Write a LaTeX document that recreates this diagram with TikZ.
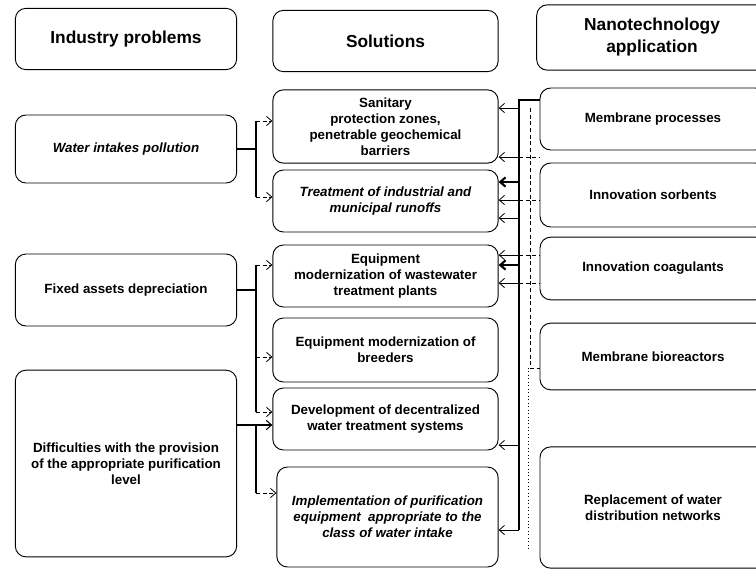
\documentclass[tikz,border=0pt]{standalone}
\usepackage{fontspec}
\setmainfont{Liberation Sans}
\usetikzlibrary{arrows.meta}

\begin{document}
\begin{tikzpicture}[x=0.75pt,y=-0.75pt,
    box/.style={draw,line width=0.7pt,rounded corners=8pt,align=center,
      font=\fontsize{10}{12}\selectfont\bfseries,inner sep=2pt},
    head/.style={box,font=\fontsize{13}{16.5}\selectfont\bfseries},
    link/.style={line width=0.6pt,-{Straight Barb[length=4pt,width=7pt]}},
    faint/.style={link,densely dashed},
    bar/.style={line width=2.2pt}]
  \clip (0,0) rectangle (756,569);
  % headings
  \node[head,minimum width=166pt,minimum height=46pt] (ip) at (126,39) {Industry problems};
  \node[head,minimum width=169pt,minimum height=46pt] (sol) at (385.5,41) {Solutions};
  \node[head,minimum width=173pt,minimum height=49pt] (nano) at (652,37.5) {Nanotechnology\\application};
  % industry problems
  \node[box,minimum width=166pt,minimum height=51pt] (wip) at (126,149) {\itshape Water intakes pollution};
  \node[box,minimum width=166pt,minimum height=54pt] (fad) at (126,290) {Fixed assets depreciation};
  \node[box,minimum width=166pt,minimum height=140pt] (dif) at (126,463.5)
    {Difficulties with the provision\\of the appropriate purification\\level};
  % solutions
  \node[box,minimum width=169pt,minimum height=55pt] (san) at (385.5,126.5)
    {Sanitary\\protection zones,\\penetrable geochemical\\barriers};
  \node[box,minimum width=169pt,minimum height=46.5pt] (trt) at (385.5,201)
    {\itshape Treatment of industrial and\\\itshape municipal runoffs};
  \node[box,minimum width=169pt,minimum height=46.5pt] (eqw) at (385.5,276)
    {Equipment\\modernization of wastewater\\treatment plants};
  \node[box,minimum width=169pt,minimum height=48pt] (eqb) at (385.5,350)
    {Equipment modernization of\\breeders};
  \node[box,minimum width=169pt,minimum height=46.5pt] (dev) at (385.5,419)
    {Development of decentralized\\water treatment systems};
  \node[box,minimum width=166pt,minimum height=75pt] (imp) at (387.5,517)
    {\itshape Implementation of purification\\\itshape equipment\ \ appropriate to the\\\itshape class of water intake};
  % nanotechnology
  \node[box,minimum width=169.5pt,minimum height=46.5pt] (mem) at (653,119) {Membrane processes};
  \node[box,minimum width=169.5pt,minimum height=48pt] (sor) at (653,195) {Innovation sorbents};
  \node[box,minimum width=169.5pt,minimum height=47pt] (coa) at (653,268.5) {Innovation coagulants};
  \node[box,minimum width=169.5pt,minimum height=50pt] (bio) at (653,356.5) {Membrane bioreactors};
  \node[box,minimum width=169.5pt,minimum height=91pt] (rep) at (653,507.5)
    {Replacement of water\\distribution networks};

  % left bars
  \coordinate (b1t) at (256,121);
  \coordinate (b1b) at (256,197);
  \draw[bar] (b1t) -- (b1b);
  \draw[line width=0.8pt] (wip.east) -- (wip.east -| b1t);
  \draw[faint] (b1t) -- (b1t -| san.west);
  \draw[faint] (b1b) -- (b1b -| trt.west);

  \coordinate (b2t) at (256,265);
  \coordinate (b2m) at (256,357);
  \coordinate (b2b) at (256,412);
  \draw[bar] (b2t) -- (b2b);
  \draw[line width=0.8pt] (fad.east) -- (fad.east -| b2t);
  \draw[faint] (b2t) -- (b2t -| eqw.west);
  \draw[faint] (b2m) -- (b2m -| eqb.west);
  \draw[faint] (b2b) -- (b2b -| dev.west);

  \coordinate (b3t) at (256,425);
  \coordinate (b3b) at (256,493);
  \draw[bar] (b3t) -- (b3b);
  \draw[link,line width=0.8pt] (dif.east |- b3t) -- (b3t -| dev.west);
  \draw[faint] (b3b) -- (b3b -| imp.west);

  % right bus
  \coordinate (bt) at (519,100);
  \coordinate (bb) at (519,530);
  \draw[line width=0.9pt] (bt -| mem.west) -- (bt) -- (bb);
  \foreach \y/\t in {108/san,157/san,200/trt,218/trt,255/eqw,283/eqw,445/dev,530/imp}{
    \coordinate (r) at (519,\y);
    \draw[link] (r) -- (r -| \t.east);
  }
  \foreach \y/\t in {182/trt,265/eqw}{
    \coordinate (r) at (519,\y);
    \draw[link,line width=1.6pt] (r) -- (r -| \t.east);
  }
  \foreach \y in {157,200,255,283}{
    \coordinate (r) at (519,\y);
    \draw[line width=0.5pt,densely dashed] (r) -- (r -| sor.west);
  }
  \coordinate (d1) at (530,108);
  \coordinate (d2) at (530,368);
  \draw[line width=0.5pt,densely dashed] (d1) -- (d2) -- (d2 -| bio.west);
  \coordinate (d3) at (528,550);
  \draw[line width=0.6pt,dotted] (d2 -| d3) -- (d3);
\end{tikzpicture}
\end{document}
